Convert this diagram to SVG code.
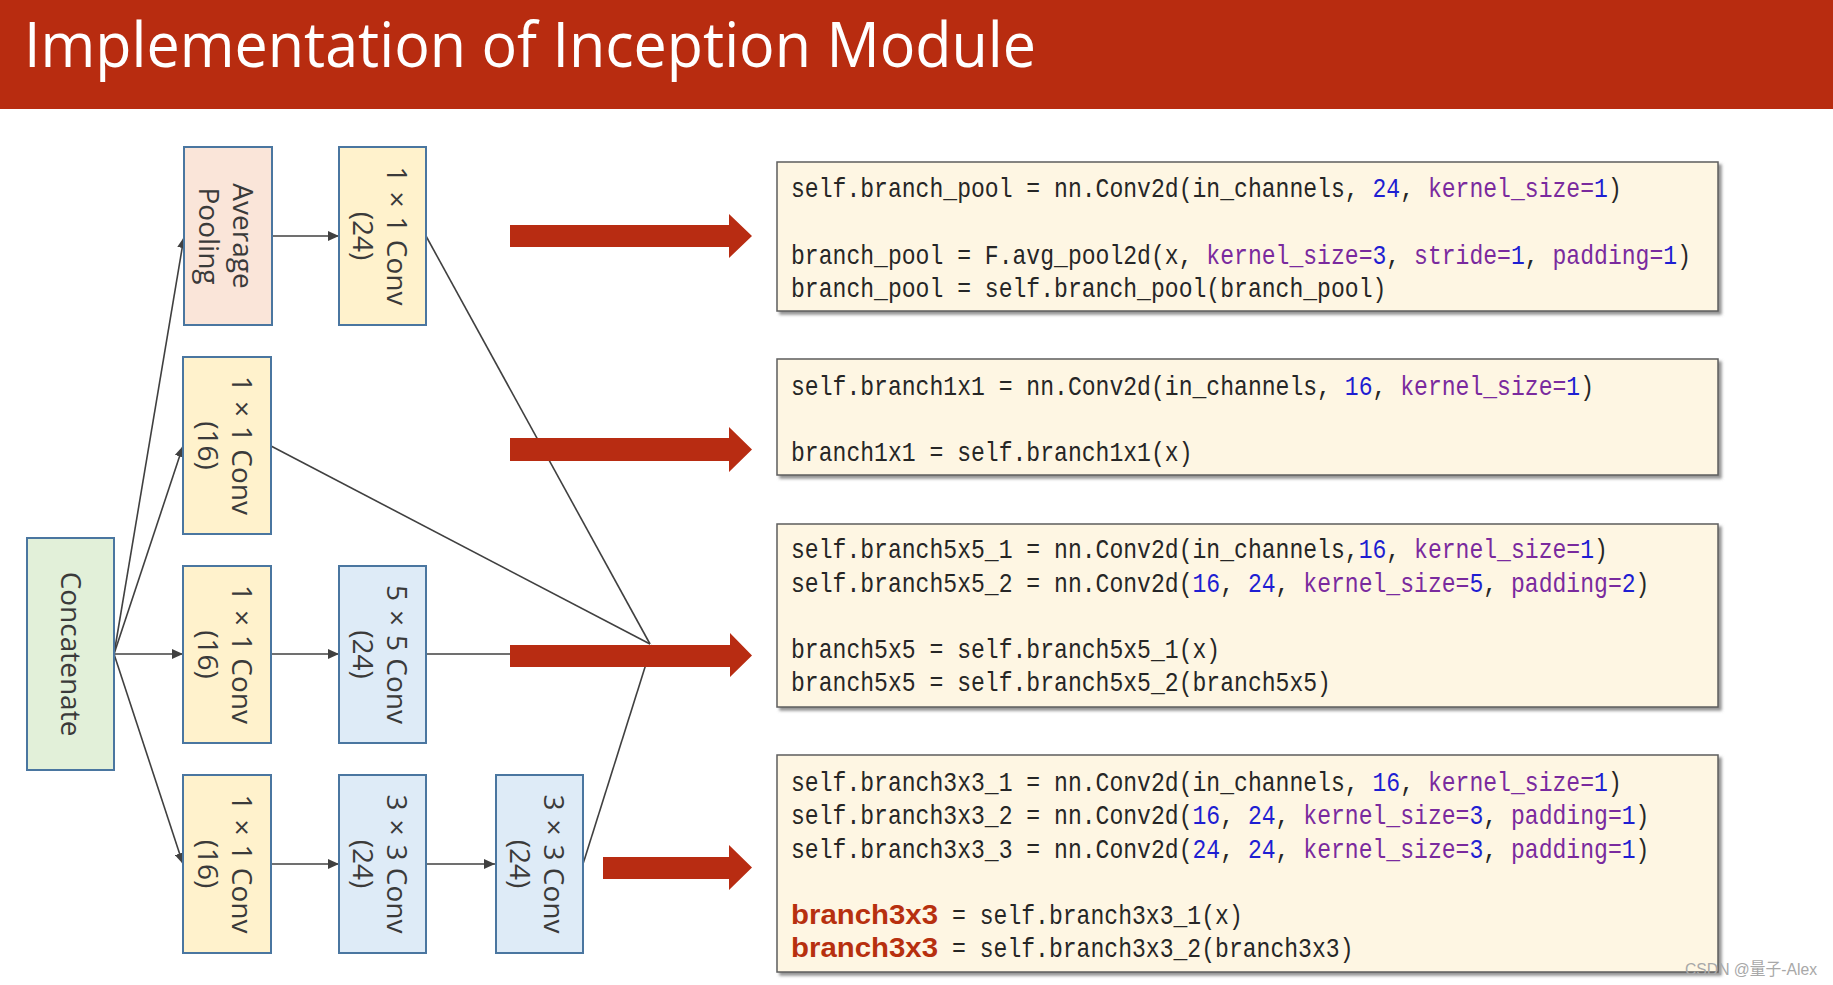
<svg xmlns="http://www.w3.org/2000/svg" width="1833" height="985" viewBox="0 0 1833 985">
<style>
.node rect{stroke:#4A76A0;stroke-width:2}
.pool{fill:#FAE5D9}
.y{fill:#FFF2CC}
.b{fill:#DEEBF7}
.g{fill:#E2F0D9}
.lbl{font-family:"Open Sans","Liberation Sans",sans-serif;font-size:28px;fill:#3A3A3A;text-anchor:middle}
.conn line{stroke:#404040;stroke-width:1.6;fill:none}
.codebox{fill:#FEF6E3;stroke:#5E5E5E;stroke-width:1.5}
.code{font-family:"Liberation Mono","DejaVu Sans Mono",monospace;font-size:23.08px;fill:#262626}
.n{fill:#1E1ED2}
.k{fill:#7A2A9E}
.bold{font-family:"Liberation Sans","Noto Sans",sans-serif;font-weight:bold;font-size:27px;fill:#B7300F}
.red{fill:#B82C12}
</style>
<defs>
<marker id="ah" viewBox="0 0 11 10" refX="11" refY="5" markerWidth="11" markerHeight="10" markerUnits="userSpaceOnUse" orient="auto">
<path d="M0,0 L11,5 L0,10 Z" fill="#404040"/>
</marker>
<filter id="sh" x="-5%" y="-10%" width="110%" height="125%">
<feDropShadow dx="3" dy="3" stdDeviation="1.8" flood-color="#777" flood-opacity="0.8"/>
</filter>
</defs>
<rect x="0" y="0" width="1833" height="109" fill="#B82C10"/>
<text x="24" y="67" font-family="'Open Sans','Noto Sans',sans-serif" font-size="62" fill="#FFFFFF" textLength="1012" lengthAdjust="spacingAndGlyphs">Implementation of Inception Module</text>

<g class="conn">
<line x1="114" y1="654" x2="184" y2="237" marker-end="url(#ah)"/>
<line x1="114" y1="654" x2="183" y2="446" marker-end="url(#ah)"/>
<line x1="114" y1="654" x2="183" y2="654" marker-end="url(#ah)"/>
<line x1="114" y1="654" x2="183" y2="864" marker-end="url(#ah)"/>
<line x1="272" y1="236" x2="339" y2="236" marker-end="url(#ah)"/>
<line x1="271" y1="654" x2="339" y2="654" marker-end="url(#ah)"/>
<line x1="271" y1="864" x2="339" y2="864" marker-end="url(#ah)"/>
<line x1="426" y1="864" x2="495" y2="864" marker-end="url(#ah)"/>
<line x1="426" y1="236" x2="650" y2="644"/>
<line x1="271" y1="446" x2="650" y2="644"/>
<line x1="426" y1="654" x2="650" y2="654"/>
<line x1="583" y1="864" x2="652" y2="645"/>
</g>

<g id="concat" class="node"><rect class="g" x="27" y="538" width="87" height="232"/><g transform="translate(70.5,654) rotate(90)"><text class="lbl" x="0" y="10">Concatenate</text></g></g>
<g id="avgpool" class="node"><rect class="pool" x="184" y="147" width="88" height="178"/><g transform="translate(228,236) rotate(90)"><text class="lbl" x="0" y="-4.5">Average</text><text class="lbl" x="0" y="29.5">Pooling</text></g></g>
<g id="conv1x1_24" class="node"><rect class="y" x="339" y="147" width="87" height="178"/><g transform="translate(382.5,236) rotate(90)"><text class="lbl" x="0" y="-4.5">1<tspan dx="9">×</tspan><tspan dx="9">1 Conv</tspan></text><text class="lbl" x="0" y="29.5">(24)</text></g></g>
<g id="conv1x1_16a" class="node"><rect class="y" x="183" y="357" width="88" height="177"/><g transform="translate(227,445.5) rotate(90)"><text class="lbl" x="0" y="-4.5">1<tspan dx="9">×</tspan><tspan dx="9">1 Conv</tspan></text><text class="lbl" x="0" y="29.5">(16)</text></g></g>
<g id="conv1x1_16b" class="node"><rect class="y" x="183" y="566" width="88" height="177"/><g transform="translate(227,654.5) rotate(90)"><text class="lbl" x="0" y="-4.5">1<tspan dx="9">×</tspan><tspan dx="9">1 Conv</tspan></text><text class="lbl" x="0" y="29.5">(16)</text></g></g>
<g id="conv5x5" class="node"><rect class="b" x="339" y="566" width="87" height="177"/><g transform="translate(382.5,654.5) rotate(90)"><text class="lbl" x="0" y="-4.5">5<tspan dx="9">×</tspan><tspan dx="9">5 Conv</tspan></text><text class="lbl" x="0" y="29.5">(24)</text></g></g>
<g id="conv1x1_16c" class="node"><rect class="y" x="183" y="775" width="88" height="178"/><g transform="translate(227,864) rotate(90)"><text class="lbl" x="0" y="-4.5">1<tspan dx="9">×</tspan><tspan dx="9">1 Conv</tspan></text><text class="lbl" x="0" y="29.5">(16)</text></g></g>
<g id="conv3x3a" class="node"><rect class="b" x="339" y="775" width="87" height="178"/><g transform="translate(382.5,864) rotate(90)"><text class="lbl" x="0" y="-4.5">3<tspan dx="9">×</tspan><tspan dx="9">3 Conv</tspan></text><text class="lbl" x="0" y="29.5">(24)</text></g></g>
<g id="conv3x3b" class="node"><rect class="b" x="496" y="775" width="87" height="178"/><g transform="translate(539.5,864) rotate(90)"><text class="lbl" x="0" y="-4.5">3<tspan dx="9">×</tspan><tspan dx="9">3 Conv</tspan></text><text class="lbl" x="0" y="29.5">(24)</text></g></g>

<g id="red-arrows">
<path class="red" d="M510,225 H729 V214 L752,236 L729,258 V247 H510 Z"/>
<path class="red" d="M510,438 H729 V427 L752,449.5 L729,472 V461 H510 Z"/>
<path class="red" d="M510,645 H730 V633 L752,655.5 L730,677 V667 H510 Z"/>
<path class="red" d="M603,857 H729 V845 L752,867.5 L729,890 V879 H603 Z"/>
</g>

<g id="code-pool">
<rect class="codebox" x="777" y="162" width="941" height="149" filter="url(#sh)"/>
<text class="code" transform="translate(791,197) scale(1,1.22)">self.branch_pool = nn.Conv2d(in_channels, <tspan class="n">24</tspan>, <tspan class="k">kernel_size=</tspan><tspan class="n">1</tspan>)</text>
<text class="code" transform="translate(791,264) scale(1,1.22)">branch_pool = F.avg_pool2d(x, <tspan class="k">kernel_size=</tspan><tspan class="n">3</tspan>, <tspan class="k">stride=</tspan><tspan class="n">1</tspan>, <tspan class="k">padding=</tspan><tspan class="n">1</tspan>)</text>
<text class="code" transform="translate(791,297) scale(1,1.22)">branch_pool = self.branch_pool(branch_pool)</text>
</g>
<g id="code-1x1">
<rect class="codebox" x="777" y="359" width="941" height="116" filter="url(#sh)"/>
<text class="code" transform="translate(791,395) scale(1,1.22)">self.branch1x1 = nn.Conv2d(in_channels, <tspan class="n">16</tspan>, <tspan class="k">kernel_size=</tspan><tspan class="n">1</tspan>)</text>
<text class="code" transform="translate(791,461) scale(1,1.22)">branch1x1 = self.branch1x1(x)</text>
</g>
<g id="code-5x5">
<rect class="codebox" x="777" y="524" width="941" height="183" filter="url(#sh)"/>
<text class="code" transform="translate(791,558) scale(1,1.22)">self.branch5x5_1 = nn.Conv2d(in_channels,<tspan class="n">16</tspan>, <tspan class="k">kernel_size=</tspan><tspan class="n">1</tspan>)</text>
<text class="code" transform="translate(791,592) scale(1,1.22)">self.branch5x5_2 = nn.Conv2d(<tspan class="n">16</tspan>, <tspan class="n">24</tspan>, <tspan class="k">kernel_size=</tspan><tspan class="n">5</tspan>, <tspan class="k">padding=</tspan><tspan class="n">2</tspan>)</text>
<text class="code" transform="translate(791,658) scale(1,1.22)">branch5x5 = self.branch5x5_1(x)</text>
<text class="code" transform="translate(791,691) scale(1,1.22)">branch5x5 = self.branch5x5_2(branch5x5)</text>
</g>
<g id="code-3x3">
<rect class="codebox" x="777" y="755" width="941" height="217" filter="url(#sh)"/>
<text class="code" transform="translate(791,791) scale(1,1.22)">self.branch3x3_1 = nn.Conv2d(in_channels, <tspan class="n">16</tspan>, <tspan class="k">kernel_size=</tspan><tspan class="n">1</tspan>)</text>
<text class="code" transform="translate(791,824) scale(1,1.22)">self.branch3x3_2 = nn.Conv2d(<tspan class="n">16</tspan>, <tspan class="n">24</tspan>, <tspan class="k">kernel_size=</tspan><tspan class="n">3</tspan>, <tspan class="k">padding=</tspan><tspan class="n">1</tspan>)</text>
<text class="code" transform="translate(791,858) scale(1,1.22)">self.branch3x3_3 = nn.Conv2d(<tspan class="n">24</tspan>, <tspan class="n">24</tspan>, <tspan class="k">kernel_size=</tspan><tspan class="n">3</tspan>, <tspan class="k">padding=</tspan><tspan class="n">1</tspan>)</text>
<text class="bold" x="791" y="924" textLength="147" lengthAdjust="spacingAndGlyphs">branch3x3</text>
<text class="code" transform="translate(952,924) scale(1,1.22)">= self.branch3x3_1(x)</text>
<text class="bold" x="791" y="957" textLength="147" lengthAdjust="spacingAndGlyphs">branch3x3</text>
<text class="code" transform="translate(952,957) scale(1,1.22)">= self.branch3x3_2(branch3x3)</text>
</g>
<text x="1685" y="975" font-family="'Liberation Sans','Noto Sans CJK SC',sans-serif" font-size="17" fill="#A8A8A8" textLength="132" lengthAdjust="spacingAndGlyphs">CSDN @量子-Alex</text>
</svg>
